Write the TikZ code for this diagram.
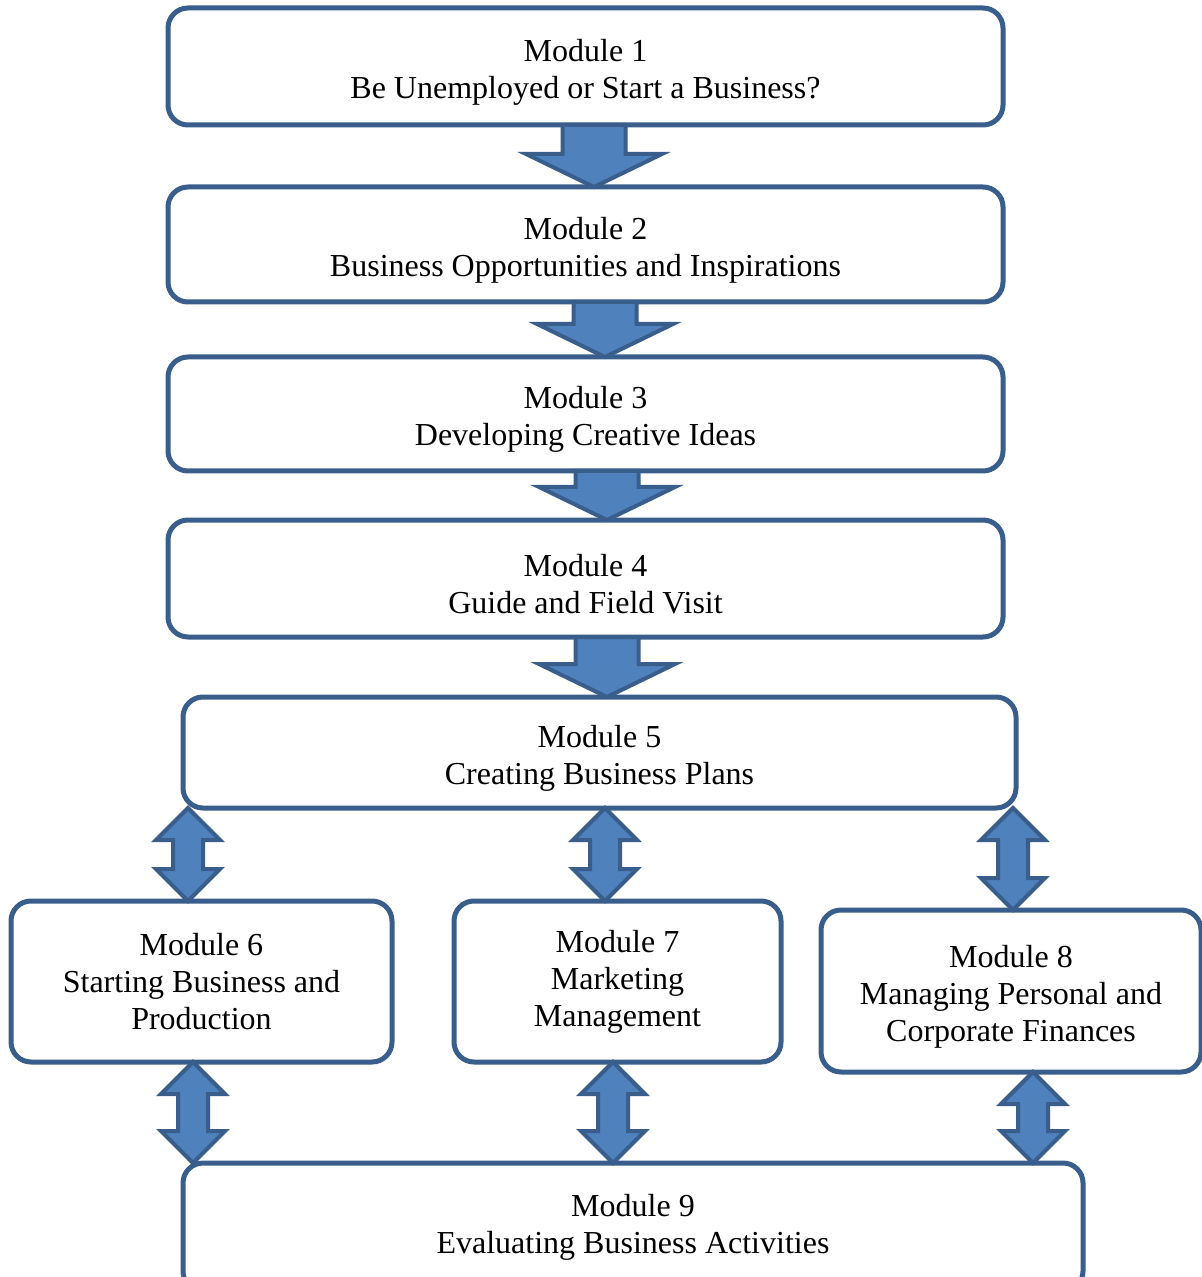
\documentclass[tikz,border=0pt]{standalone}
\usepackage{fontspec}
\setmainfont{Liberation Serif}
\usetikzlibrary{calc}
\definecolor{edgeblue}{RGB}{58,94,140}
\definecolor{fillblue}{RGB}{79,129,189}
\newcommand\TopStrut{\rule{0pt}{16.5pt}}
\tikzset{
  modbox/.style={draw=edgeblue, line width=2.5pt, rounded corners=10pt, fill=white,
    align=center, inner sep=0pt, outer sep=0pt,
    font=\fontsize{16}{18.5}\selectfont},
  blockarrow/.style={draw=edgeblue, fill=fillblue, line width=2pt, line join=miter}
}
\newcommand\MyDownArrow[3]{% x, from node, to node
  \path (#1,0 |- #2.south) coordinate (t) (#1,0 |- #3.north) coordinate (b);
  \draw[blockarrow] ($(t)+(-31.5,0)$) -- ($(t)+(31.5,0)$) -- ($(b)+(31.5,-33)$)
    -- ($(b)+(68,-33)$) -- (b) -- ($(b)+(-68,-33)$) -- ($(b)+(-31.5,-33)$) -- cycle;}
\newcommand\MyDblArrow[3]{% x, from node, to node
  \path (#1,0 |- #2.south) coordinate (t) (#1,0 |- #3.north) coordinate (b);
  \draw[blockarrow] (t) -- ($(t)+(32,32)$) -- ($(t)+(15,32)$) -- ($(b)+(15,-32)$)
    -- ($(b)+(32,-32)$) -- (b) -- ($(b)+(-32,-32)$) -- ($(b)+(-15,-32)$)
    -- ($(t)+(-15,32)$) -- ($(t)+(-32,32)$) -- cycle;}
\begin{document}
\begin{tikzpicture}[x=0.5pt,y=-0.5pt]
\clip (0,0) rectangle (1202,1277);
\fill[white] (0,0) rectangle (1202,1277);

\node[modbox, minimum width=417.5pt, minimum height=58.5pt] (m1) at (585.5,66.5)
  {\TopStrut Module 1\\Be Unemployed or Start a Business?};
\node[modbox, minimum width=417.5pt, minimum height=57.5pt] (m2) at (585.5,244.5)
  {\TopStrut Module 2\\Business Opportunities and Inspirations};
\node[modbox, minimum width=417.5pt, minimum height=57pt] (m3) at (585.5,414)
  {\TopStrut Module 3\\Developing Creative Ideas};
\node[modbox, minimum width=417.5pt, minimum height=58.5pt] (m4) at (585.5,578.5)
  {\TopStrut Module 4\\Guide and Field Visit};
\node[modbox, minimum width=416.5pt, minimum height=55.5pt] (m5) at (599.5,752.5)
  {\TopStrut Module 5\\Creating Business Plans};
\node[modbox, minimum width=190.5pt, minimum height=80.5pt] (m6) at (201.5,981.5)
  {Module 6\\Starting Business and\\Production};
\node[modbox, minimum width=163.5pt, minimum height=80.5pt] (m7) at (617.5,981.5)
  {Module 7\\Marketing\\Management};
\node[modbox, minimum width=190pt, minimum height=81pt] (m8) at (1011,991)
  {\TopStrut Module 8\\Managing Personal and\\Corporate Finances};
\node[modbox, minimum width=450pt, minimum height=64pt] (m9) at (633,1227)
  {Module 9\\Evaluating Business Activities};

\MyDownArrow{594}{m1}{m2}
\MyDownArrow{605}{m2}{m3}
\MyDownArrow{607}{m3}{m4}
\MyDownArrow{607}{m4}{m5}

\MyDblArrow{188}{m5}{m6}
\MyDblArrow{605}{m5}{m7}
\MyDblArrow{1013}{m5}{m8}
\MyDblArrow{193}{m6}{m9}
\MyDblArrow{613}{m7}{m9}
\MyDblArrow{1033}{m8}{m9}
\end{tikzpicture}
\end{document}
